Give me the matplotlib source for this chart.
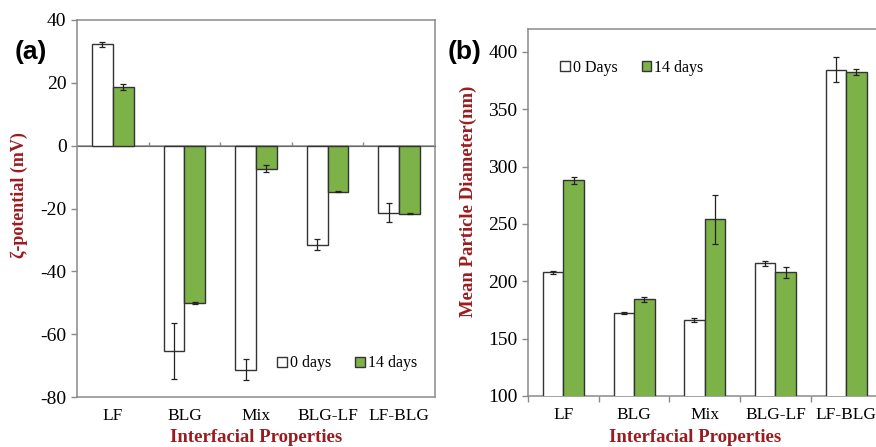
import numpy as np
import matplotlib.pyplot as plt

# datos
categorias = ["LF", "BLG", "Mix", "BLG-LF", "LF-BLG"]

zeta_0d = [32.3, -65.4, -71.3, -31.5, -21.3]
zeta_0d_err = [0.8, 8.8, 3.3, 1.7, 3.0]
zeta_14d = [18.7, -50.1, -7.3, -14.7, -21.7]
zeta_14d_err = [1.0, 0.3, 1.0, 0.2, 0.2]

diam_0d = [207.8, 172.3, 166.2, 215.6, 384.6]
diam_0d_err = [1.5, 1.0, 2.0, 2.0, 11.0]
diam_14d = [288.2, 184.2, 253.9, 207.8, 382.3]
diam_14d_err = [3.0, 2.0, 21.0, 4.5, 2.5]

verde = "#7db248"
rojo = "#9b1c1f"
borde = "#333333"
gris = "#8a8a8a"
serif = "Liberation Serif"

plt.rcParams["font.family"] = serif
plt.rcParams["axes.unicode_minus"] = False

fig = plt.figure(figsize=(8.76, 4.47), dpi=100)
ax1 = fig.add_axes([77/876, 1-397/447, 358/876, 377/447])
ax2 = fig.add_axes([528/876, 1-396/447, 353.5/876, 367/447])

x = np.arange(len(categorias))
w = 0.29


def barras(ax, v0, e0, v14, e14, lab0, lab14):
    ax.bar(x - w/2, v0, w, color="white", edgecolor=borde, linewidth=1.0,
           yerr=e0, error_kw=dict(ecolor="#222222", elinewidth=0.9, capsize=2.5, capthick=0.9),
           label=lab0, zorder=3)
    ax.bar(x + w/2, v14, w, color=verde, edgecolor=borde, linewidth=1.0,
           yerr=e14, error_kw=dict(ecolor="#222222", elinewidth=0.9, capsize=2.5, capthick=0.9),
           label=lab14, zorder=3)
    ax.set_xlim(-0.5, 4.5)
    ax.set_xticks(x)
    ax.set_xticklabels(categorias, fontsize=12.5)
    ax.tick_params(axis="x", which="major", length=0, pad=8)
    ax.tick_params(axis="y", labelsize=14, length=4, color=gris, width=1)
    for s in ax.spines.values():
        s.set_color(gris)
        s.set_linewidth(1.1)


# (a) potencial zeta
barras(ax1, zeta_0d, zeta_0d_err, zeta_14d, zeta_14d_err, "0 days", "14 days")
ax1.set_ylim(-80, 40)
ax1.set_yticks(np.arange(-80, 41, 20))
ax1.axhline(0, color=gris, linewidth=1.1, zorder=2)
eje0 = ax1.secondary_xaxis(2/3)
eje0.spines["bottom"].set_visible(False)
eje0.set_xticks([])
eje0.set_xticks(np.arange(0.5, 4, 1), minor=True)
eje0.tick_params(which="minor", length=3, color=gris, width=1, direction="out")
ax1.set_ylabel("ζ-potential (mV)", color=rojo, fontsize=13, fontweight="bold")
ax1.yaxis.set_label_coords(-0.137, 0.536)
ax1.set_xlabel("Interfacial Properties", color=rojo, fontsize=13.5, fontweight="bold")
ax1.xaxis.set_label_coords(0.5, -0.085)
ax1.legend(loc="lower right", bbox_to_anchor=(0.99, 0.03), ncol=2, frameon=False,
           fontsize=11.5, handlelength=0.6, handleheight=0.6, handletextpad=0.2,
           columnspacing=1.5)
fig.text(15/876, 1-52/447, "(a)", fontsize=19, fontweight="bold",
         family="Liberation Sans", va="center")

# (b) diametro medio
barras(ax2, diam_0d, diam_0d_err, diam_14d, diam_14d_err, "0 Days", "14 days")
ax2.set_ylim(100, 420)
ax2.set_yticks(np.arange(100, 401, 50))
ax2.set_xticks(np.arange(-0.5, 4.6, 1), minor=True)
ax2.tick_params(axis="x", which="minor", length=4, color=gris, width=1)
ax2.set_ylabel("Mean Particle Diameter(nm)", color=rojo, fontsize=13.5, fontweight="bold")
ax2.yaxis.set_label_coords(-0.144, 0.531)
ax2.set_xlabel("Interfacial Properties", color=rojo, fontsize=13.5, fontweight="bold")
ax2.xaxis.set_label_coords(0.472, -0.09)
ax2.legend(loc="upper left", bbox_to_anchor=(0.05, 0.955), ncol=2, frameon=False,
           fontsize=11.5, handlelength=0.6, handleheight=0.6, handletextpad=0.2,
           columnspacing=1.5)
fig.text(448/876, 1-52/447, "(b)", fontsize=19, fontweight="bold",
         family="Liberation Sans", va="center")

fig.savefig("out.png", dpi=100)
